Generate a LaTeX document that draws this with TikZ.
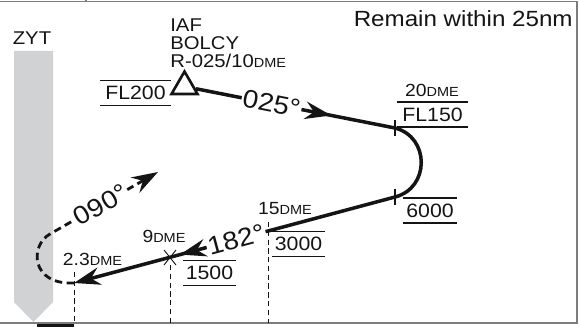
\documentclass[tikz,border=0pt]{standalone}
\usepackage{fontspec}
\setmainfont{Liberation Sans}[FakeStretch=1.1]
\usetikzlibrary{arrows.meta, decorations.markings, shapes.geometric}

\definecolor{ink}{RGB}{20,20,20}
\definecolor{rwy}{RGB}{209,210,212}
\definecolor{edge}{RGB}{125,125,125}

\newcommand{\fsz}[1]{\fontsize{#1}{#1}\selectfont}
\newcommand{\dme}{{\fsz{7.5}DME}}

\tikzset{
	track/.style={ink, line width=2pt},
	leg/.style={ink, line width=1.6pt, dash pattern=on 4.2pt off 2.6pt},
	drop/.style={ink, line width=0.55pt, dash pattern=on 3pt off 2pt},
	bar/.style={ink, line width=0.9pt},
	hdg/.style={fill=white, inner sep=0.8pt, font=\fsz{14.5}},
	alt/.style={inner xsep=1.5pt, inner ysep=3pt, font=\fsz{11}},
	fix/.style={inner sep=0pt, font=\fsz{10}},
	tip/.style={-{Stealth[length=15pt, width=10pt, inset=5pt]}},
	midarrow/.style={postaction={decorate}, decoration={markings, mark=at position #1 with {\arrow{Stealth[length=15pt, width=10pt, inset=5pt]}}}},
}

\begin{document}
\begin{tikzpicture}[x=0.02cm, y=-0.02cm, font=\fsz{10.5}, text=ink]
	\useasboundingbox (0,0) rectangle (580,327);
	
	% frame
	\draw[edge, line width=1pt] (0,1.5) -- (577,1.5) -- (577,323) -- (0,323);
	\draw[edge, line width=1pt] (86,0) -- (86,1.5);
	\fill[ink] (37,323.5) rectangle (74,327);
	\coordinate (base) at (0,323);
	
	% runway
	\fill[rwy] (14,51) -- (53,51) -- (53,302) -- (33.5,322) -- (14,302) -- cycle;
	\node[] (zyt) at (32,38) {ZYT};
	
	\node[font=\fsz{12.5}, anchor=east, inner sep=0pt] (remain) at (573,19) {Remain within 25nm};
	
	% IAF
	\node[draw=ink, line width=1.5pt, regular polygon, regular polygon sides=3, minimum size=0.6cm, inner sep=0pt] (iaf) at (184.5,86.5) {};
	\node[align=left, anchor=north west, inner sep=0pt] (iafname) at (170,18) {IAF\\BOLCY\\R-025/10\dme};
	
	\coordinate (d20) at (395,128);
	\coordinate (turn) at (395,197);
	\coordinate (d15) at (268,231);
	\coordinate (d9) at (170,257);
	\coordinate (d23) at (74,283);
	\coordinate (go) at (158,172);
	
	\draw[track, midarrow=0.68] (iaf) -- node[hdg, sloped, pos=0.38] {025°} (d20);
	\draw[track] (d20) .. controls (430,137) and (430,188) .. (turn);
	\draw[track, tip, midarrow=0.67] (turn) -- node[hdg, sloped, pos=0.495] {182°} (d23);
	\draw[leg, tip] (d23) .. controls (30,285) and (30,245) .. (50,234) -- node[hdg, sloped, pos=0.47] {090°} (go);
	
	% ticks and fixes
	\draw[ink, line width=0.6pt] (d20) ++(0,-8) -- ++(0,16);
	\draw[ink, line width=0.6pt] (turn) ++(0,-8) -- ++(0,16);
	\draw[ink, line width=0.5pt] (d9) ++(-6,-7) -- ++(12,15) (d9) ++(6,-7) -- ++(-12,15);
	
	\draw[drop] (d23) ++(0,-11) -- (d23 |- base);
	\draw[drop] (d9) ++(0,8) -- (d9 |- base);
	\draw[drop] (d15) ++(0,-9) -- (d15 |- base);
	
	% altitudes
	\node[alt, inner xsep=3pt] (fl200) at (135.5,93) {FL200};
	\node[fix] (n20) at (432,90) {20\dme};
	\node[alt, inner xsep=3pt] (fl150) at (432.5,114.5) {FL150};
	\node[alt] (a6000) at (430,210.5) {6000};
	\node[fix] (n15) at (285,208.5) {15\dme};
	\node[alt] (a3000) at (298.5,244) {3000};
	\node[fix] (n9) at (164,236.5) {9\dme};
	\node[alt] (a1500) at (209.5,273) {1500};
	\node[fix] (n23) at (92.5,259.5) {2.3\dme};
	
	\foreach \n in {fl200, fl150, a6000, a3000, a1500}
		\draw[bar] (\n.north west) -- (\n.north east) (\n.south west) -- (\n.south east);
\end{tikzpicture}
\end{document}
